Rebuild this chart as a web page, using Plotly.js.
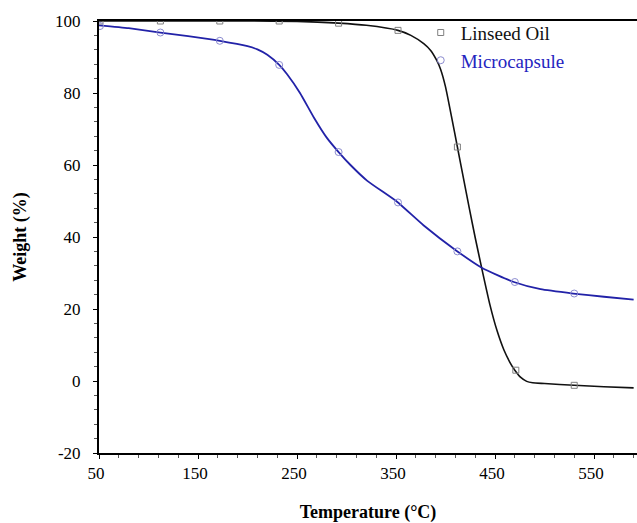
<!DOCTYPE html>
<html>
<head>
<meta charset="utf-8">
<script src="https://cdn.plot.ly/plotly-3.0.1.min.js"></script>
<style>html,body{margin:0;padding:0;background:#fff;}#chart{width:637px;height:523px;}</style>
</head>
<body>
<div id="chart"></div>
<script>
// Linseed Oil curve (temperature °C, weight %)
var linseedTemp   = [50, 100, 150, 200, 250, 292, 320, 352, 365, 378, 385, 391, 395, 400, 406, 412, 418, 424, 430, 437, 445, 452, 459, 465, 470, 476, 482, 488, 500, 530, 560, 590];
var linseedWeight = [100, 100, 100, 100, 99.9, 99.4, 98.8, 97.4, 96.0, 93.7, 91.8, 89.1, 86.6, 81.7, 73.5, 65.0, 56.5, 48.0, 39.8, 30.8, 21.0, 14.0, 8.6, 5.2, 3.0, 1.0, -0.1, -0.5, -0.7, -1.2, -1.6, -1.9];
// Linseed Oil markers
var linseedMarkTemp   = [51, 112, 172, 232, 292, 352, 412, 471, 530];
var linseedMarkWeight = [100, 100, 100, 100, 99.4, 97.4, 65, 3, -1.2];

// Microcapsule curve
var microTemp   = [50, 80, 112, 140, 172, 200, 210, 220, 232, 240, 253, 267, 280, 292, 304, 321, 351, 378, 411, 437, 469, 496, 529, 560, 590];
var microWeight = [98.8, 98.0, 96.8, 95.8, 94.5, 93.0, 92.1, 90.6, 87.8, 85.2, 80.0, 73.2, 67.6, 63.6, 60.0, 55.6, 49.8, 43.2, 36.2, 31.4, 27.5, 25.5, 24.3, 23.4, 22.6];
// Microcapsule markers
var microMarkTemp   = [51, 112, 172, 232, 292, 352, 412, 470, 530];
var microMarkWeight = [98.6, 96.8, 94.5, 87.8, 63.6, 49.6, 36.0, 27.5, 24.3];

var seriesNames = ['Linseed Oil', 'Microcapsule'];
var xTickVals = [50, 150, 250, 350, 450, 550];
var yTickVals = [-20, 0, 20, 40, 60, 80, 100];

var serif = 'Times New Roman, Liberation Serif, serif';

var traces = [
  {x: linseedTemp, y: linseedWeight, mode: 'lines', line: {color: '#111111', width: 1.6, shape: 'spline', smoothing: 0.5},
   showlegend: false, legendgroup: 'a', hoverinfo: 'skip'},
  {x: microTemp, y: microWeight, mode: 'lines', line: {color: '#2222a8', width: 1.8, shape: 'spline', smoothing: 0.5},
   showlegend: false, legendgroup: 'b', hoverinfo: 'skip'},
  {x: linseedMarkTemp, y: linseedMarkWeight, mode: 'markers', name: seriesNames[0], legendgroup: 'a',
   marker: {symbol: 'square-open', size: 6, color: '#808080', line: {width: 1}}},
  {x: microMarkTemp, y: microMarkWeight, mode: 'markers', name: '<span style="color:#2424c0">' + seriesNames[1] + '</span>', legendgroup: 'b',
   marker: {symbol: 'circle-open', size: 7, color: '#8c8cd0', line: {width: 1}}}
];

var layout = {
  width: 637, height: 523,
  margin: {l: 99, r: 0, t: 21, b: 70, pad: 0},
  paper_bgcolor: '#ffffff', plot_bgcolor: '#ffffff',
  font: {family: serif, color: '#000000', size: 17},
  showlegend: true,
  legend: {x: 0.598, y: 1.017, xanchor: 'left', yanchor: 'top', bgcolor: 'rgba(0,0,0,0)',
           font: {family: serif, size: 19, color: '#111111'}, tracegroupgap: 0},
  xaxis: {
    range: [50, 593.4], tickmode: 'array', tickvals: xTickVals, ticktext: xTickVals.map(String),
    showgrid: false, zeroline: false, showline: true, linecolor: '#000000', linewidth: 2, mirror: true,
    ticks: 'outside', ticklen: 4, tickwidth: 1, tickcolor: '#000000',
    minor: {dtick: 20, tick0: 50, ticks: 'outside', ticklen: 3, tickcolor: '#555555', showgrid: false},
    tickfont: {family: serif, size: 17, color: '#000000'},
    ticklabelshift: -3,
    title: {text: '<b>Temperature (°C)</b>', font: {family: serif, size: 18, color: '#000000'}, standoff: 23}
  },
  yaxis: {
    range: [-20, 100], tickmode: 'array', tickvals: yTickVals, ticktext: yTickVals.map(String),
    showgrid: false, zeroline: false, showline: true, linecolor: '#000000', linewidth: 2, mirror: false,
    ticks: 'outside', ticklen: 4, tickwidth: 1, tickcolor: '#000000',
    minor: {dtick: 4, tick0: 0, ticks: 'outside', ticklen: 3, tickcolor: '#555555', showgrid: false},
    tickfont: {family: serif, size: 17, color: '#000000'},
    ticklabelstandoff: 9,
    title: {text: '<b>Weight (%)</b>', font: {family: serif, size: 18, color: '#000000'}, standoff: 24}
  }
};

Plotly.newPlot('chart', traces, layout, {displayModeBar: false, staticPlot: true});
</script>
</body>
</html>
